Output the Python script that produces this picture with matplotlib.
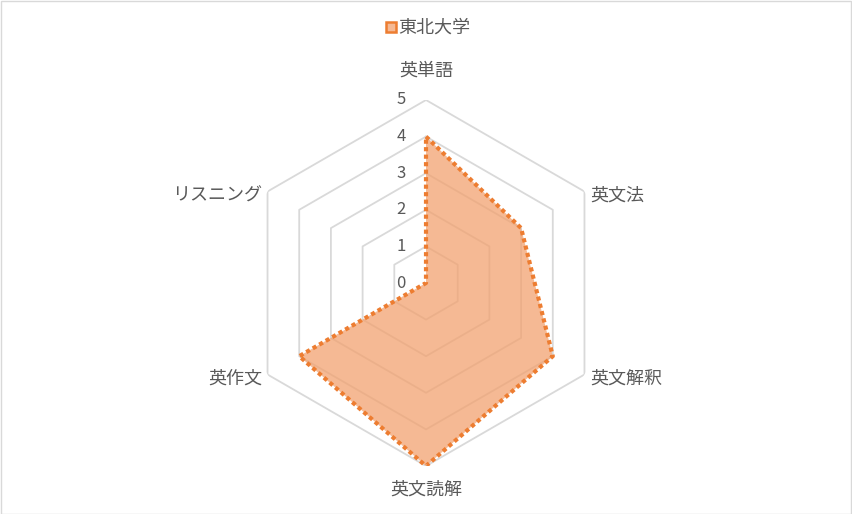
import numpy as np
import matplotlib
matplotlib.use("Agg")
import matplotlib.pyplot as plt
from matplotlib.lines import Line2D
from matplotlib.patches import Rectangle

plt.rcParams['font.family'] = ['Noto Sans CJK JP', 'DejaVu Sans']

categories = ['英単語', '英文法', '英文解釈', '英文読解', '英作文', 'リスニング']
values = [4, 3, 4, 5, 4, 0]
series_name = '東北大学'
r_ticks = [0, 1, 2, 3, 4, 5]

text_color = '#595959'
grid_color = '#d9d9d9'
line_color = '#ED7D31'
fill_color = '#F2A270'

W, H = 852, 514
fig = plt.figure(figsize=(W / 100, H / 100), dpi=100)
fig.add_artist(Rectangle((0.5 / W, 0.5 / H), 1 - 1.5 / W, 1 - 1.5 / H, transform=fig.transFigure,
                         fill=False, edgecolor='#d9d9d9', linewidth=1))

cx, cy, R = 426, 514 - 283, 183
ax = fig.add_axes([(cx - R) / W, (cy - R) / H, 2 * R / W, 2 * R / H], projection='polar')
ax.set_theta_offset(np.pi / 2)
ax.set_theta_direction(-1)
ax.set_ylim(0, 5)
ax.set_xticks([])
ax.set_yticks([])
ax.grid(False)
ax.spines['polar'].set_visible(False)
ax.patch.set_alpha(0)

n = len(categories)
angles = np.arange(n) * 2 * np.pi / n
closed = np.concatenate([angles, angles[:1]])

for r in r_ticks[1:]:
    ax.plot(closed, [r] * (n + 1), color=grid_color, linewidth=1.3, zorder=1)

vals = np.array(values + values[:1], dtype=float)
ax.fill(closed, vals, color=fill_color, alpha=0.75, zorder=2, linewidth=0)
ax.plot(closed, vals, color=line_color, linewidth=3, linestyle=(0, (1, 0.8)), zorder=3,
        solid_capstyle='butt', dash_capstyle='butt')

for r in r_ticks:
    ax.annotate(str(r), xy=(0, r), xytext=(-18, 0), textcoords='offset points',
                ha='center', va='center', fontsize=12, color=text_color)

for ang, lab in zip(angles, categories):
    deg = np.degrees(ang)
    if abs(deg) < 1:
        off, ha, va = (0, 21), 'center', 'center'
    elif abs(deg - 180) < 1:
        off, ha, va = (0, -17), 'center', 'center'
    elif deg < 180:
        off, ha, va = (4, -3), 'left', 'center'
    else:
        off, ha, va = (-4, -3), 'right', 'center'
    ax.annotate(lab, xy=(ang, 5), xytext=off, textcoords='offset points',
                ha=ha, va=va, fontsize=13, color=text_color, annotation_clip=False)

handle = Line2D([], [], linestyle='none', marker='s', markersize=6.5,
                markerfacecolor='#F5B994', markeredgecolor=line_color, markeredgewidth=1.8)
fig.legend([handle], [series_name], loc='center', bbox_to_anchor=(428 / W, 1 - 28 / H),
           frameon=False, fontsize=13, labelcolor=text_color, handlelength=0.6,
           handletextpad=0.1)

fig.savefig('out.png', dpi=100)
